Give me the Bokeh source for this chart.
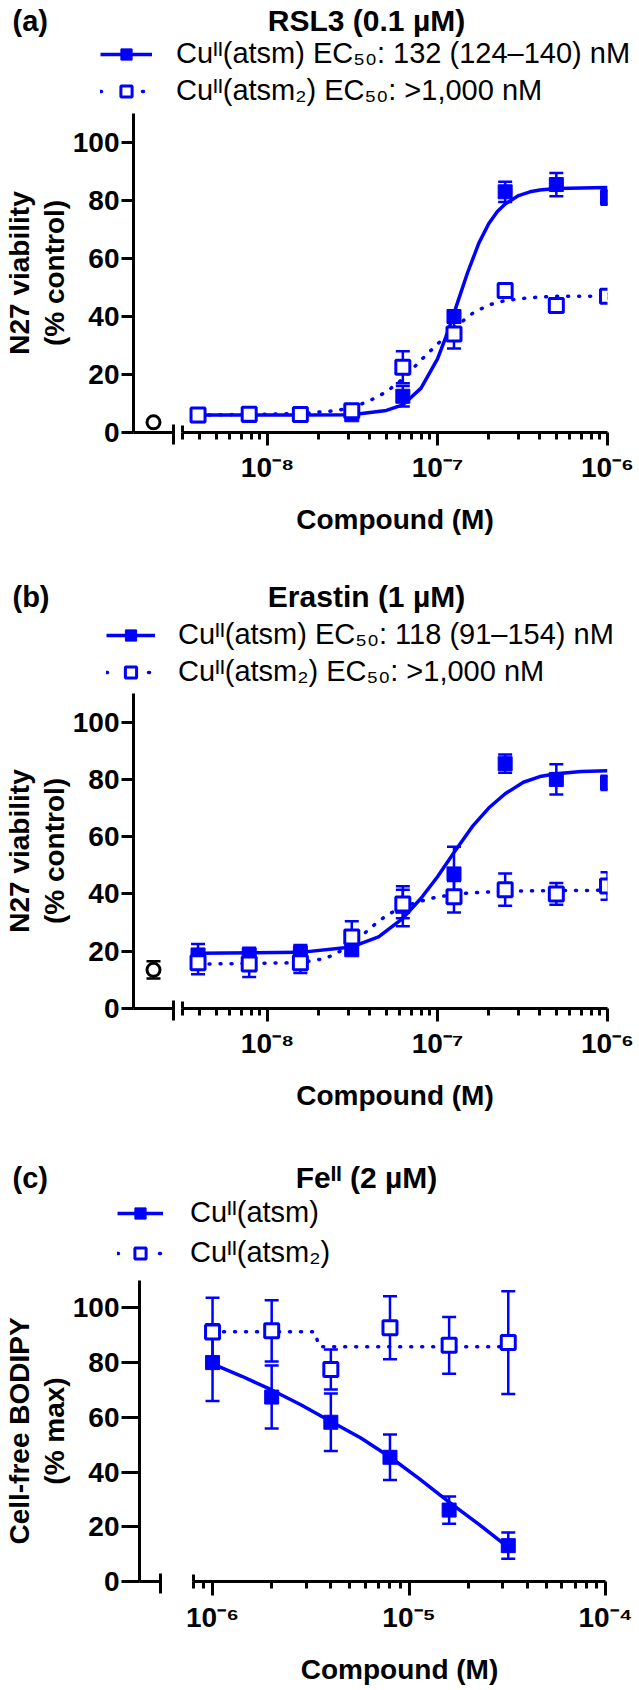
import math
from bokeh.plotting import figure
from bokeh.models import (ColumnDataSource, FixedTicker, Whisker, TeeHead, Legend,
                          LegendItem, Label, Range1d, LinearAxis)
from bokeh.layouts import column, row
from bokeh.embed import file_html
from bokeh.resources import INLINE

FONT = "Liberation Sans"
BLUE = "#0000ff"
PAGE_W = 639

# ---------------- data: panel (a) RSL3 ----------------
a_conc = [3.9e-9, 7.8e-9, 1.56e-8, 3.13e-8, 6.25e-8, 1.25e-7, 2.5e-7, 5e-7, 1e-6]
a_atsm = [5.8, 5.9, 6.0, 6.1, 12.5, 40.0, 83.0, 85.5, 81.0]
a_atsm_err = [1.0, 1.0, 1.0, 0.6, 3.5, 2.0, 3.5, 4.0, 2.5]
a_atsm2 = [6.0, 6.3, 6.2, 7.5, 22.5, 34.0, 49.0, 43.8, 47.0]
a_atsm2_err = [1.0, 1.0, 0.6, 1.0, 5.5, 5.0, 2.5, 1.0, 1.0]
a_ctrl = [3.5]
a_ctrl_err = [0.5]
a_fit_x = [3.9e-9, 1.56e-8, 3.13e-8, 5e-8, 6.25e-8, 8e-8, 1e-7, 1.15e-7, 1.32e-7, 1.5e-7,
           1.75e-7, 2e-7, 2.25e-7, 2.5e-7, 3e-7, 3.5e-7, 4e-7, 5e-7, 1e-6]
a_fit_y = [6.0, 6.0, 6.1, 7.6, 9.5, 15.3, 25.4, 34.7, 45.3, 55.0,
           65.3, 72.0, 76.2, 78.8, 81.7, 83.0, 83.6, 84.1, 84.5]
a_fit2_x = [3.9e-9, 1.56e-8, 2.5e-8, 3.13e-8, 4e-8, 5e-8, 6.25e-8, 8e-8, 1e-7, 1.25e-7,
            1.6e-7, 2e-7, 2.5e-7, 3.5e-7, 5e-7, 1e-6]
a_fit2_y = [6.0, 6.5, 7.5, 8.5, 11.0, 14.0, 18.5, 25.0, 30.5, 36.0,
            41.0, 44.0, 45.5, 46.5, 47.0, 47.0]

# ---------------- data: panel (b) Erastin ----------------
b_conc = [3.9e-9, 7.8e-9, 1.56e-8, 3.13e-8, 6.25e-8, 1.25e-7, 2.5e-7, 5e-7, 1e-6]
b_atsm = [18.7, 18.7, 19.4, 20.5, 35.7, 47.0, 85.5, 80.0, 78.8]
b_atsm_err = [3.8, 2.5, 2.8, 1.5, 7.0, 9.5, 3.2, 5.3, 2.5]
b_atsm2 = [16.0, 15.5, 16.0, 25.0, 36.5, 39.0, 41.5, 40.0, 42.8]
b_atsm2_err = [4.0, 4.5, 3.6, 5.5, 5.0, 5.5, 5.6, 3.8, 4.8]
b_ctrl = [13.5]
b_ctrl_err = [3.0]
b_fit_x = [3.9e-9, 1.56e-8, 3.13e-8, 4.5e-8, 6.25e-8, 8e-8, 1e-7, 1.25e-7, 1.6e-7, 2e-7,
           2.5e-7, 3.2e-7, 4e-7, 5e-7, 7e-7, 1e-6]
b_fit_y = [19.3, 19.6, 21.5, 25.0, 31.5, 38.5, 46.0, 54.5, 63.5, 70.0,
           75.0, 79.0, 81.0, 82.0, 82.8, 83.0]
b_fit2_x = [3.9e-9, 1.56e-8, 2.2e-8, 3.13e-8, 4e-8, 5e-8, 6.25e-8, 8e-8, 1e-7, 1.5e-7,
            2.5e-7, 1e-6]
b_fit2_y = [15.5, 16.0, 17.5, 22.0, 28.0, 32.5, 35.5, 37.5, 39.0, 40.3, 41.0, 41.3]

# ---------------- data: panel (c) Fe(II) ----------------
c_conc = [1e-6, 2e-6, 4e-6, 8e-6, 1.6e-5, 3.2e-5]
c_atsm = [80.0, 67.4, 58.2, 45.4, 26.1, 13.1]
c_atsm_err = [14.0, 11.5, 10.5, 8.3, 5.0, 4.8]
c_atsm2 = [91.2, 91.6, 77.5, 92.7, 86.3, 87.3]
c_atsm2_err = [12.5, 11.2, 7.3, 11.5, 10.4, 18.8]
c_fit_x = [1e-6, 1.41e-6, 2e-6, 2.83e-6, 4e-6, 5.66e-6, 8e-6, 1.13e-5, 1.6e-5, 2.26e-5, 3.2e-5]
c_fit_y = [79.5, 75.0, 70.0, 64.5, 58.5, 52.5, 45.5, 37.5, 29.0, 21.0, 12.5]
c_fit2_x = [1e-6, 3.3e-6, 3.5e-6, 3.2e-5]
c_fit2_y = [91.3, 91.3, 85.8, 85.8]

y_ticks = [0, 20, 40, 60, 80, 100]


def minor_list(e0, e1, lo):
    out = []
    for e in range(e0, e1):
        for k in range(2, 10):
            v = k * 10.0 ** e
            if v > lo:
                out.append(v)
    return out


def blank(w, h, xr, yr):
    p = figure(width=w, height=h, x_range=xr, y_range=yr, min_border=0,
               min_border_left=0, min_border_right=0, min_border_top=0, min_border_bottom=0,
               x_axis_location=None, y_axis_location=None,
               output_backend="svg", toolbar_location=None)
    p.outline_line_color = None
    p.grid.visible = False
    p.background_fill_color = "white"
    p.border_fill_color = "white"
    return p


def label(p, x, y, text, size, bold=True, align="left"):
    p.add_layout(Label(x=x, y=y, text=text, text_font=FONT, text_font_size=size,
                       text_font_style="bold" if bold else "normal",
                       text_color="black", text_align=align, text_baseline="middle"))


def add_err(p, xs, ys, es, color):
    src = ColumnDataSource(dict(base=xs,
                                lower=[y - e for y, e in zip(ys, es)],
                                upper=[y + e for y, e in zip(ys, es)]))
    p.add_layout(Whisker(source=src, base="base", lower="lower", upper="upper",
                         dimension="height", line_color=color, line_width=2.5,
                         lower_head=TeeHead(size=14, line_color=color, line_width=2.5),
                         upper_head=TeeHead(size=14, line_color=color, line_width=2.5)))


def style_common(p):
    p.outline_line_color = None
    p.grid.visible = False
    p.background_fill_color = "white"
    p.border_fill_color = "white"


def axis_title(ax, text, standoff):
    ax.axis_label = text
    ax.axis_label_text_font = FONT
    ax.axis_label_text_font_size = "28px"
    ax.axis_label_text_font_style = "bold"
    ax.axis_label_text_color = "black"
    ax.axis_label_standoff = standoff


def make_header(c):
    h = c["hh"]
    hp = blank(PAGE_W, h, Range1d(0, PAGE_W), Range1d(h, 0))
    # legend keys only (placed off-canvas; the legend shows their styles)
    d1 = hp.line(x=[-60, -50], y=[-60, -60], line_color=BLUE, line_width=3.5)
    d1m = hp.scatter(x=[-60], y=[-60], marker="square", size=14, fill_color=BLUE,
                     line_color=BLUE)
    d2 = hp.line(x=[-60, -50], y=[-60, -60], line_color=BLUE, line_width=3.5,
                 line_dash="1 20", line_cap="round")
    d2m = hp.scatter(x=[-60], y=[-60], marker="square", size=14, fill_color="white",
                     line_color=BLUE, line_width=3)
    leg = Legend(items=[LegendItem(label=c["lab1"], renderers=[d1, d1m]),
                        LegendItem(label=c["lab2"], renderers=[d2, d2m])],
                 location=c["legloc"], orientation="vertical",
                 background_fill_alpha=0, border_line_alpha=0,
                 label_text_font=FONT, label_text_font_size="29px",
                 label_text_color="black",
                 glyph_width=c["gw"], glyph_height=28, label_standoff=c["ls"],
                 spacing=c["sp"], padding=0, margin=0, label_height=32)
    hp.add_layout(leg)
    label(hp, 12, c["ty"], c["plabel"], "29px")
    label(hp, 366, c["ty"], c["title"], "30px", align="center")
    return hp


def make_row(c):
    H = c["rh"]
    bt, bb = c["bt"], c["bb"]

    # left segment (vehicle control) carrying the y axis and its two-line title
    cp = figure(width=c["cw"], height=H, x_range=Range1d(0, 1), y_range=Range1d(0, 110),
                min_border_left=c["cbl"], min_border_right=5,
                min_border_top=bt, min_border_bottom=bb,
                output_backend="svg", toolbar_location=None)
    style_common(cp)
    ya = cp.yaxis[0]
    ya.ticker = FixedTicker(ticks=y_ticks, minor_ticks=[])
    ya.axis_line_width = 3
    ya.major_tick_line_width = 3
    ya.major_tick_out = c["ytick"]
    ya.major_tick_in = 0
    ya.major_label_text_font = FONT
    ya.major_label_text_font_size = "28px"
    ya.major_label_text_font_style = "bold"
    ya.major_label_text_color = "black"
    ya.major_label_standoff = 2
    axis_title(ya, c["ylabel"][1], 0)
    outer = LinearAxis(ticker=FixedTicker(ticks=[], minor_ticks=[]),
                       axis_line_color=None, major_tick_out=0, major_tick_in=0,
                       minor_tick_out=0, minor_tick_in=0, major_label_standoff=0)
    axis_title(outer, c["ylabel"][0], 1)
    cp.add_layout(outer, "left")

    xa = cp.xaxis[0]
    xa.ticker = FixedTicker(ticks=[], minor_ticks=[1.0])
    xa.axis_line_width = 3
    xa.minor_tick_line_width = 3
    xa.minor_tick_out = 12
    xa.minor_tick_in = 8
    xa.major_label_standoff = 0
    if c.get("ctrl") is not None:
        add_err(cp, [0.5], c["ctrl"], c["ctrl_err"], "black")
        cp.scatter([0.5], c["ctrl"], marker="circle", size=13, fill_color="white",
                   line_color="black", line_width=3)

    # main (log) segment
    mp = figure(width=c["mw"], height=H, x_axis_type="log",
                x_range=Range1d(c["main0"], c["x1"]), y_range=Range1d(0, 110),
                min_border_left=c["mbl"], min_border_right=c["mbr"],
                min_border_top=bt, min_border_bottom=bb,
                output_backend="svg", toolbar_location=None)
    style_common(mp)
    my = mp.yaxis[0]
    my.bounds = (0, 2.4)
    my.ticker = FixedTicker(ticks=[], minor_ticks=[])
    my.axis_line_width = 3
    my.major_tick_out = 0
    my.major_tick_in = 0
    my.minor_tick_out = 0
    my.major_label_standoff = 0
    mx = mp.xaxis[0]
    mx.ticker = FixedTicker(ticks=c["majors"], minor_ticks=[c["main0"]] + c["minors"])
    mx.major_label_overrides = c["xlabels"]
    mx.axis_line_width = 3
    mx.major_tick_line_width = 3
    mx.minor_tick_line_width = 3
    mx.major_tick_out = c["xtick"]
    mx.major_tick_in = 0
    mx.minor_tick_out = 7
    mx.minor_tick_in = 0
    mx.major_label_text_font = FONT
    mx.major_label_text_font_size = "28px"
    mx.major_label_text_font_style = "bold"
    mx.major_label_text_color = "black"
    mx.major_label_standoff = 6
    axis_title(mx, "Compound (M)", 18)

    add_err(mp, c["conc"], c["s1"], c["e1"], BLUE)
    add_err(mp, c["conc"], c["s2"], c["e2"], BLUE)
    mp.line(c["f1x"], c["f1y"], line_color=BLUE, line_width=3.5)
    mp.scatter(c["conc"], c["s1"], marker="square", size=14,
               fill_color=BLUE, line_color=BLUE, line_width=1)
    mp.line(c["f2x"], c["f2y"], line_color=BLUE, line_width=3.5,
            line_dash="1 10", line_cap="round")
    mp.scatter(c["conc"], c["s2"], marker="square", size=14,
               fill_color="white", line_color=BLUE, line_width=3)
    return row(cp, mp, spacing=0)


cfg_a = dict(hh=110, ty=20, plabel="(a)", title="RSL3 (0.1 µM)",
             lab1="Cuᴵᴵ(atsm) EC₅₀: 132 (124–140) nM", lab2="Cuᴵᴵ(atsm₂) EC₅₀: >1,000 nM",
             legloc=(100, 3), gw=52, ls=24, sp=4,
             rh=446, bt=3, bb=124, ylabel=("N27 viability", "(% control)"),
             cw=178, cbl=127, ytick=12, mw=461, mbl=4, mbr=32,
             main0=3.16e-9, x1=1e-6, majors=[1e-8, 1e-7, 1e-6],
             minors=minor_list(-9, -6, 3.3e-9),
             xlabels={1e-8: "10⁻⁸", 1e-7: "10⁻⁷", 1e-6: "10⁻⁶"}, xtick=13,
             conc=a_conc, s1=a_atsm, e1=a_atsm_err, s2=a_atsm2, e2=a_atsm2_err,
             ctrl=a_ctrl, ctrl_err=a_ctrl_err,
             f1x=a_fit_x, f1y=a_fit_y, f2x=a_fit2_x, f2y=a_fit2_y)

cfg_b = dict(hh=135, ty=40, plabel="(b)", title="Erastin (1 µM)",
             lab1="Cuᴵᴵ(atsm) EC₅₀: 118 (91–154) nM", lab2="Cuᴵᴵ(atsm₂) EC₅₀: >1,000 nM",
             legloc=(106, 3), gw=49, ls=23, sp=4,
             rh=444, bt=2, bb=127, ylabel=("N27 viability", "(% control)"),
             cw=178, cbl=127, ytick=12, mw=461, mbl=4, mbr=32,
             main0=3.16e-9, x1=1e-6, majors=[1e-8, 1e-7, 1e-6],
             minors=minor_list(-9, -6, 3.3e-9),
             xlabels={1e-8: "10⁻⁸", 1e-7: "10⁻⁷", 1e-6: "10⁻⁶"}, xtick=13,
             conc=b_conc, s1=b_atsm, e1=b_atsm_err, s2=b_atsm2, e2=b_atsm2_err,
             ctrl=b_ctrl, ctrl_err=b_ctrl_err,
             f1x=b_fit_x, f1y=b_fit_y, f2x=b_fit2_x, f2y=b_fit2_y)

cfg_c = dict(hh=142, ty=42, plabel="(c)", title="Feᴵᴵ (2 µM)",
             lab1="Cuᴵᴵ(atsm)", lab2="Cuᴵᴵ(atsm₂)",
             legloc=(117, 8), gw=46, ls=27, sp=7,
             rh=413, bt=3, bb=109, ylabel=("Cell-free BODIPY", "(% max)"),
             cw=165, cbl=134, ytick=18, mw=474, mbl=28, mbr=34,
             main0=8.0e-7, x1=1e-4, majors=[1e-6, 1e-5, 1e-4],
             minors=minor_list(-7, -4, 8.5e-7),
             xlabels={1e-6: "10⁻⁶", 1e-5: "10⁻⁵", 1e-4: "10⁻⁴"}, xtick=14,
             conc=c_conc, s1=c_atsm, e1=c_atsm_err, s2=c_atsm2, e2=c_atsm2_err,
             ctrl=None, f1x=c_fit_x, f1y=c_fit_y, f2x=c_fit2_x, f2y=c_fit2_y)

parts = []
for cfg in (cfg_a, cfg_b, cfg_c):
    parts.append(make_header(cfg))
    parts.append(make_row(cfg))

layout = column(*parts, spacing=0)
open("out.html", "w").write(file_html(layout, INLINE))
